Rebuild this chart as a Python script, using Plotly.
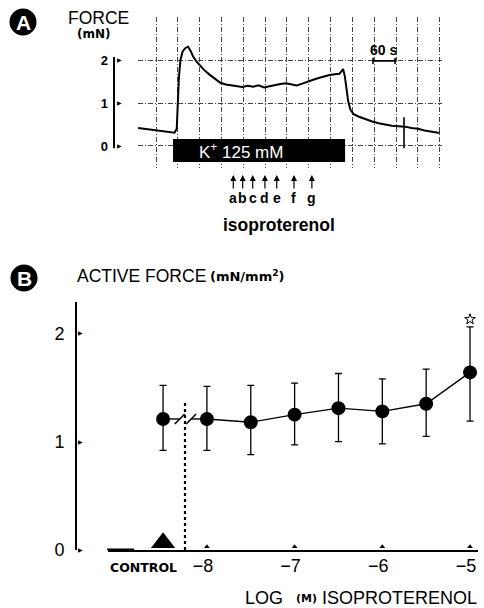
import plotly.graph_objects as go

W, H = 484, 608
FONT = "Liberation Sans, Arial, Helvetica, sans-serif"
WIDE_BOLD = "DejaVu Sans, Verdana, sans-serif"


def px(x):
    return x / W


def py(y):
    return 1 - y / H


# ---------------- Panel A : force recording ----------------
time_min = [-0.82, -0.5, 0.0, 0.5, 0.85, 0.95, 1.0, 1.05, 1.12, 1.22, 1.35, 1.47,
            1.6, 1.7, 1.85, 2.0, 2.2, 2.45, 2.7, 2.95, 3.2, 3.45, 3.7, 3.95, 4.2,
            4.45, 4.7, 4.95, 5.2, 5.45, 5.7, 5.95, 6.2, 6.45, 6.7, 6.95, 7.2, 7.45,
            7.7, 7.95, 8.2, 8.4, 8.5, 8.57, 8.65, 8.72, 8.8, 8.9, 9.05, 9.3, 9.6,
            9.9, 10.2, 10.5, 10.8, 11.1, 11.4, 11.7, 12.0, 12.3, 12.6, 13.0]
force_mN = [0.42, 0.40, 0.37, 0.34, 0.31, 0.40, 1.0, 1.6, 2.0, 2.2, 2.28, 2.31,
            2.2, 2.08, 1.97, 1.88, 1.77, 1.66, 1.56, 1.47, 1.43, 1.41, 1.38, 1.37,
            1.40, 1.38, 1.41, 1.36, 1.39, 1.42, 1.44, 1.46, 1.44, 1.41, 1.45, 1.50,
            1.54, 1.58, 1.62, 1.65, 1.67, 1.68, 1.74, 1.79, 1.62, 1.30, 1.05, 0.85,
            0.74, 0.68, 0.62, 0.57, 0.53, 0.50, 0.47, 0.46, 0.45, 0.42, 0.40, 0.36,
            0.33, 0.30]
k_bar_start, k_bar_end = 0.78, 8.66
k_bar_bottom, k_bar_top = -0.37, 0.16
iso_times = [3.54, 3.97, 4.43, 4.99, 5.53, 6.32, 7.14]
iso_labels = ["a", "b", "c", "d", "e", "f", "g"]
event_time = 11.36
event_low, event_high = -0.05, 0.67
scale_start, scale_end, scale_level = 9.94, 10.95, 1.98
a_ticks = [0, 1, 2]

# ---------------- Panel B : concentration-response ----------------
control_x = -8.5
control_mean = 1.21
control_up = 0.31
control_down = 0.29
log_conc = [-8, -7.5, -7, -6.5, -6, -5.5, -5]
force_mean = [1.21, 1.18, 1.25, 1.31, 1.28, 1.35, 1.64]
err_up = [0.30, 0.34, 0.29, 0.32, 0.30, 0.32, 0.42]
err_down = [0.29, 0.30, 0.28, 0.31, 0.30, 0.30, 0.45]
signif_x, signif_y = [-5], [2.13]
break_x = [-8.31, -8.18]
dotted_x, dotted_top = -8.25, 1.36
x_ticks = [-8, -7, -6, -5]
x_ticktext = ["−8", "−7", "−6", "−5"]
b_ticks = [0, 1, 2]

fig = go.Figure()

# Panel A traces
fig.add_trace(go.Scatter(x=time_min, y=force_mN, mode="lines",
                         line=dict(color="black", width=2), xaxis="x", yaxis="y",
                         hoverinfo="skip"))
fig.add_trace(go.Scatter(x=[event_time, event_time], y=[event_low, event_high],
                         mode="lines", line=dict(color="black", width=1.6),
                         xaxis="x", yaxis="y", cliponaxis=False))
fig.add_trace(go.Scatter(
    x=[scale_start, scale_end, None, scale_start, scale_start, None, scale_end, scale_end],
    y=[scale_level, scale_level, None, scale_level + 0.07, scale_level - 0.07, None,
       scale_level + 0.07, scale_level - 0.07],
    mode="lines", line=dict(color="black", width=1.6), xaxis="x", yaxis="y"))

# Panel B traces
fig.add_trace(go.Scatter(x=[dotted_x, dotted_x], y=[0, dotted_top], mode="lines",
                         line=dict(color="black", width=2.2, dash="dot"),
                         xaxis="x2", yaxis="y2", cliponaxis=False))
fig.add_trace(go.Scatter(
    x=[control_x, break_x[0], None, break_x[1], log_conc[0]],
    y=[control_mean, control_mean, None, force_mean[0], force_mean[0]],
    mode="lines", line=dict(color="black", width=1.4), xaxis="x2", yaxis="y2"))
fig.add_trace(go.Scatter(x=break_x, y=[control_mean, force_mean[0]], mode="markers",
                         marker=dict(symbol="line-ne", size=10,
                                     line=dict(color="black", width=1.6)),
                         xaxis="x2", yaxis="y2"))
fig.add_trace(go.Scatter(
    x=[control_x], y=[control_mean], mode="markers",
    marker=dict(color="black", size=14),
    error_y=dict(type="data", array=[control_up], arrayminus=[control_down],
                 color="black", thickness=1.3, width=3.5),
    xaxis="x2", yaxis="y2"))
fig.add_trace(go.Scatter(
    x=log_conc, y=force_mean, mode="lines+markers",
    line=dict(color="black", width=1.4),
    marker=dict(color="black", size=14),
    error_y=dict(type="data", array=err_up, arrayminus=err_down,
                 color="black", thickness=1.3, width=3.5),
    xaxis="x2", yaxis="y2"))
# significance star
fig.add_trace(go.Scatter(x=signif_x, y=signif_y, mode="markers",
                         marker=dict(symbol="star-open", size=8, color="black",
                                     line=dict(color="black", width=1)),
                         xaxis="x2", yaxis="y2"))
# Large triangle at control and small triangles at each decade
fig.add_trace(go.Scatter(x=[control_x], y=[0.067], mode="markers",
                         marker=dict(symbol="triangle-up", size=21, color="black"),
                         xaxis="x2", yaxis="y2", cliponaxis=False))
fig.add_trace(go.Scatter(x=x_ticks, y=[0.03] * len(x_ticks), mode="markers",
                         marker=dict(symbol="triangle-up", size=5, color="black"),
                         xaxis="x2", yaxis="y2", cliponaxis=False))

grid_dash = "5px,2px,1px,2px"
fig.update_layout(
    template="none",
    width=W, height=H, autosize=False,
    margin=dict(l=0, r=0, t=0, b=0, pad=0, autoexpand=False),
    paper_bgcolor="white", plot_bgcolor="white",
    showlegend=False,
    font=dict(family=FONT, color="black"),
    xaxis=dict(domain=[px(138), px(442)], range=[-0.8245, 13.1], anchor="y",
               automargin=False,
               showticklabels=False, ticks="", showline=False, zeroline=False,
               showgrid=True, tick0=0, dtick=1, gridcolor="#444", gridwidth=1,
               griddash=grid_dash),
    yaxis=dict(domain=[py(167.7), py(16.8)], range=[-0.505, 3.005], anchor="free",
               automargin=False,
               position=px(114), showline=False, zeroline=False, ticks="",
               showgrid=True, tick0=0, dtick=0.5, gridcolor="#444", gridwidth=1,
               griddash=grid_dash,
               tickmode="array", tickvals=a_ticks,
               ticktext=["<b>%d</b>" % v for v in a_ticks],
               tickfont=dict(size=13), ticklabelstandoff=6),
    xaxis2=dict(domain=[px(108), px(478)], range=[-9.128, -4.909], anchor="y2",
                automargin=False,
                showline=True, linecolor="black", linewidth=2, zeroline=False,
                showgrid=False, ticks="", tickmode="array", tickvals=x_ticks,
                ticktext=x_ticktext, tickfont=dict(size=18), ticklabelshift=-4,
                ticklabelstandoff=-2),
    yaxis2=dict(domain=[py(550), py(302)], range=[0, 2.29], anchor="free",
                automargin=False,
                position=px(76), showline=True, linecolor="black", linewidth=2,
                zeroline=False, showgrid=False, ticks="", tickmode="array",
                tickvals=b_ticks, ticktext=[str(v) for v in b_ticks],
                tickfont=dict(size=18), ticklabelstandoff=7),
)

shapes = []
# panel A y-axis line
shapes.append(dict(type="line", xref="paper", yref="y", x0=px(114), x1=px(114),
                   y0=-0.05, y1=2.07, line=dict(color="black", width=2)))
# K+ bar
shapes.append(dict(type="rect", xref="x", yref="y", x0=k_bar_start, x1=k_bar_end,
                   y0=k_bar_bottom, y1=k_bar_top, fillcolor="black",
                   line=dict(color="black", width=0)))
# panel circles
for cx, cy in [(23, 22), (24, 278)]:
    shapes.append(dict(type="circle", xref="paper", yref="paper",
                       x0=px(cx - 13.5), x1=px(cx + 13.5),
                       y0=py(cy + 13.5), y1=py(cy - 13.5),
                       fillcolor="black", line=dict(color="black", width=0)))
# thicker start of x axis in panel B
shapes.append(dict(type="line", xref="paper", yref="y2", x0=px(107), x1=px(134),
                   y0=0, y1=0, line=dict(color="black", width=3)))
fig.update_layout(shapes=shapes)

ann = []


def text_at(text, x, y, size, xref="paper", yref="paper", xanchor="center",
            color="black", family=None, **kw):
    f = dict(size=size, color=color)
    if family:
        f["family"] = family
    ann.append(dict(text=text, x=x, y=y, xref=xref, yref=yref, xanchor=xanchor,
                    yanchor="middle", showarrow=False, font=f, **kw))


# panel letters
text_at("<b>A</b>", px(23), py(22), 21, color="white")
text_at("<b>B</b>", px(24.5), py(278), 21, color="white")
# panel A titles
text_at("FORCE", px(98), py(18), 17.5)
text_at("<b>(mN)</b>", px(93.5), py(34), 12, family=WIDE_BOLD)
# tick triangles
for v in a_ticks:
    text_at("▶", px(119), v, 6, yref="y")
for v in b_ticks:
    text_at("▶", px(80.5), v, 6, yref="y2")
# K+ label
text_at("K<sup>+</sup> 125 mM", 3.9, -0.12, 17, xref="x", yref="y", color="white")
# 60 s scale
text_at("<b>60 s</b>", 10.44, 2.24, 14, xref="x", yref="y")
# isoproterenol arrows
for t, lab in zip(iso_times, iso_labels):
    ann.append(dict(text="<b>%s</b>" % lab, x=t, y=py(175), xref="x", yref="paper",
                    showarrow=True, arrowhead=2, arrowsize=1, arrowwidth=1.2,
                    arrowcolor="black", ax=0, ay=23, font=dict(size=14)))
text_at("<b>isoproterenol</b>", px(278.5), py(225), 17.5)
# panel B titles
text_at("ACTIVE FORCE", px(75), py(276), 17.5, xanchor="left")
text_at("<b>(mN/mm<sup>2</sup>)</b>", px(208), py(276), 13, xanchor="left",
        family=WIDE_BOLD)
text_at("<b>CONTROL</b>", px(143), py(567), 12.5, family=WIDE_BOLD)
text_at("LOG", px(264), py(598), 18)
text_at("<b>(M)</b>", px(306), py(598), 11, family=WIDE_BOLD)
text_at("ISOPROTERENOL", px(479), py(598), 18, xanchor="right")
fig.update_layout(annotations=ann)

fig.write_html("out.html", config={"displayModeBar": False},
               post_script="document.body.style.margin='0';")
